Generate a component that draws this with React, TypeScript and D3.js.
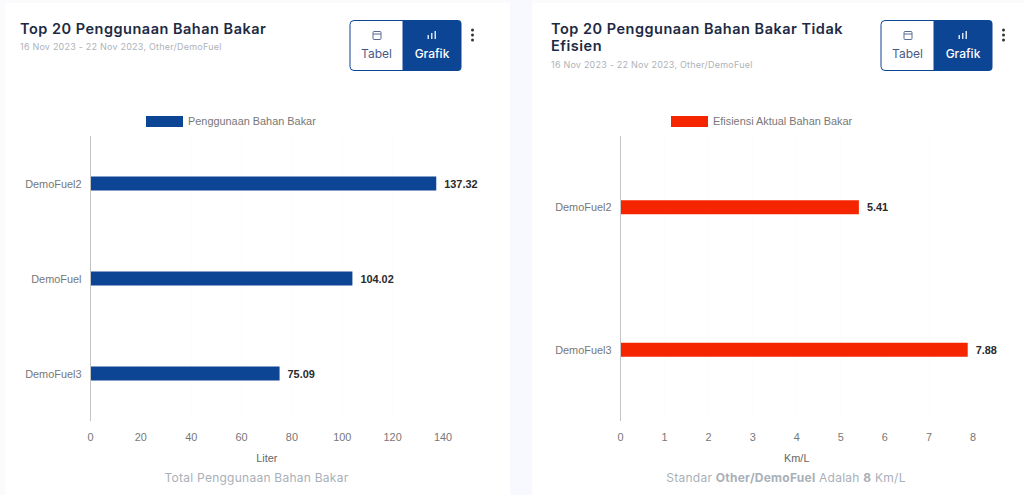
import * as d3 from 'd3';
import React from 'react';

const WIDTH = 1024;
const HEIGHT = 495;

const fuelCategories = ['DemoFuel2', 'DemoFuel', 'DemoFuel3'];
const fuelValues = [137.32, 104.02, 75.09];
const fuelTicks = [0, 20, 40, 60, 80, 100, 120, 140];

const effCategories = ['DemoFuel2', 'DemoFuel3'];
const effValues = [5.41, 7.88];
const effTicks = [0, 1, 2, 3, 4, 5, 6, 7, 8];

const BLUE = '#0d4595';
const RED = '#f52500';
const NAVY = '#1d2a44';
const HEAD_FONT = 'Inter, "Open Sans", sans-serif';
const CHART_FONT = '"Liberation Sans", Arial, sans-serif';

interface PanelProps {
    left: number;
    titleLines: string[];
    subtitle: string;
    legend: string;
    legendX: number;
    color: string;
    categories: string[];
    values: number[];
    ticks: number[];
    x0: number;
    x1: number;
    unit: string;
    buttonX: number;
    footer: React.ReactNode;
    footerX: number;
}

function Panel(p: PanelProps) {
    const x = d3.scaleLinear().domain([p.ticks[0], p.ticks[p.ticks.length - 1]]).range([p.x0, p.x1]);
    const y = d3.scaleBand().domain(p.categories).range([136, 421]);
    const barH = 14;
    const midX = (p.x0 + p.x1) / 2;
    const subY = 48 + (p.titleLines.length - 1) * 17.5;

    return (
        <g>
            {p.titleLines.map((line, i) => (
                <text key={i} x={p.left} y={34 + i * 17} fontFamily={HEAD_FONT} fontSize={14.5} fontWeight={600} letterSpacing={0.5} fill={NAVY}>
                    {line}
                </text>
            ))}
            <text x={p.left} y={subY + 2} fontFamily={HEAD_FONT} fontSize={9} fill="#aeb2b9" letterSpacing={0.22}>
                {p.subtitle}
            </text>

            {/* tabel / grafik toggle */}
            <g transform={`translate(${p.buttonX},20)`}>
                <path d="M53.5 0.5H4.5a4 4 0 0 0-4 4v42a4 4 0 0 0 4 4h49z" fill="#fff" stroke={BLUE} />
                <path d="M53.5 0H108a4 4 0 0 1 4 4v43a4 4 0 0 1-4 4H53.5z" fill={BLUE} />
                <rect x={23.5} y={11.5} width={8} height={8} rx={1} fill="none" stroke="#5b6b94" />
                <line x1={23.5} x2={31.5} y1={14} y2={14} stroke="#5b6b94" />
                <text x={27} y={38} textAnchor="middle" fontFamily={HEAD_FONT} fontSize={12} fill="#4a5a88">Tabel</text>
                <rect x={78} y={15} width={1.5} height={4} fill="#d8e2f2" />
                <rect x={81.5} y={13} width={1.5} height={6} fill="#d8e2f2" />
                <rect x={85} y={11} width={1.5} height={8} fill="#d8e2f2" />
                <text x={82.5} y={38} textAnchor="middle" fontFamily={HEAD_FONT} fontSize={12} fontWeight={500} fill="#fff">Grafik</text>
                <circle cx={123} cy={10} r={1.5} fill="#333" />
                <circle cx={123} cy={15} r={1.5} fill="#333" />
                <circle cx={123} cy={20} r={1.5} fill="#333" />
            </g>

            {/* legend */}
            <rect x={p.legendX} y={116} width={37} height={11} fill={p.color} />
            <text x={p.legendX + 42} y={124.5} fontFamily={CHART_FONT} fontSize={10.9} fill="#777">{p.legend}</text>

            {/* faint grid */}
            {p.ticks.slice(1).map((t) => (
                <line key={t} x1={x(t)} x2={x(t)} y1={136} y2={421} stroke="#000" strokeOpacity={0.012} />
            ))}

            {/* bars */}
            {p.categories.map((c, i) => {
                const cy = (y(c) ?? 0) + y.bandwidth() / 2;
                return (
                    <g key={c}>
                        <rect x={p.x0} y={cy - barH / 2} width={x(p.values[i]) - p.x0} height={barH} fill={p.color} />
                        <text x={p.x0 - 9} y={cy + 4} textAnchor="end" fontFamily={CHART_FONT} fontSize={10.9} fill="#777">{c}</text>
                        <text x={x(p.values[i]) + 8} y={cy + 4} fontFamily={CHART_FONT} fontSize={10.9} fontWeight={700} fill="#2a2a2a">
                            {p.values[i].toFixed(2)}
                        </text>
                    </g>
                );
            })}

            {/* axis */}
            <line x1={p.x0} x2={p.x0} y1={136} y2={421} stroke="#c4c4c4" />
            {p.ticks.map((t) => (
                <text key={t} x={x(t)} y={441} textAnchor="middle" fontFamily={CHART_FONT} fontSize={10.9} fill="#777">{t}</text>
            ))}
            <text x={midX} y={462} textAnchor="middle" fontFamily={CHART_FONT} fontSize={10.9} fill="#666">{p.unit}</text>
            <text x={p.footerX} y={482} textAnchor="middle" fontFamily={HEAD_FONT} fontSize={12} letterSpacing={0.25} fill="#a9b0b8">{p.footer}</text>
        </g>
    );
}

export default function App() {
    return (
        <svg width={WIDTH} height={HEIGHT} viewBox={`0 0 ${WIDTH} ${HEIGHT}`} style={{ position: 'absolute', left: 0, top: 0, display: 'block' }}>
            <rect width={WIDTH} height={HEIGHT} fill="#fff" />
            <rect x={0} y={0} width={WIDTH} height={3} fill="#fbfbfd" />
            <rect x={0} y={0} width={5} height={HEIGHT} fill="#fbfbfd" />
            <rect x={510} y={0} width={22} height={HEIGHT} fill="#f8f9fe" />
            <Panel
                left={20}
                titleLines={['Top 20 Penggunaan Bahan Bakar']}
                subtitle="16 Nov 2023 - 22 Nov 2023, Other/DemoFuel"
                legend="Penggunaan Bahan Bakar"
                legendX={146}
                color={BLUE}
                categories={fuelCategories}
                values={fuelValues}
                ticks={fuelTicks}
                x0={90.5}
                x1={443}
                unit="Liter"
                buttonX={349.5}
                footer="Total Penggunaan Bahan Bakar"
                footerX={256.5}
            />
            <Panel
                left={551}
                titleLines={['Top 20 Penggunaan Bahan Bakar Tidak', 'Efisien']}
                subtitle="16 Nov 2023 - 22 Nov 2023, Other/DemoFuel"
                legend="Efisiensi Aktual Bahan Bakar"
                legendX={671}
                color={RED}
                categories={effCategories}
                values={effValues}
                ticks={effTicks}
                x0={620.5}
                x1={973}
                unit="Km/L"
                buttonX={880.5}
                footer={<>Standar <tspan fontWeight={700}>Other/DemoFuel</tspan> Adalah <tspan fontWeight={700}>8</tspan> Km/L</>}
                footerX={786}
            />
        </svg>
    );
}
